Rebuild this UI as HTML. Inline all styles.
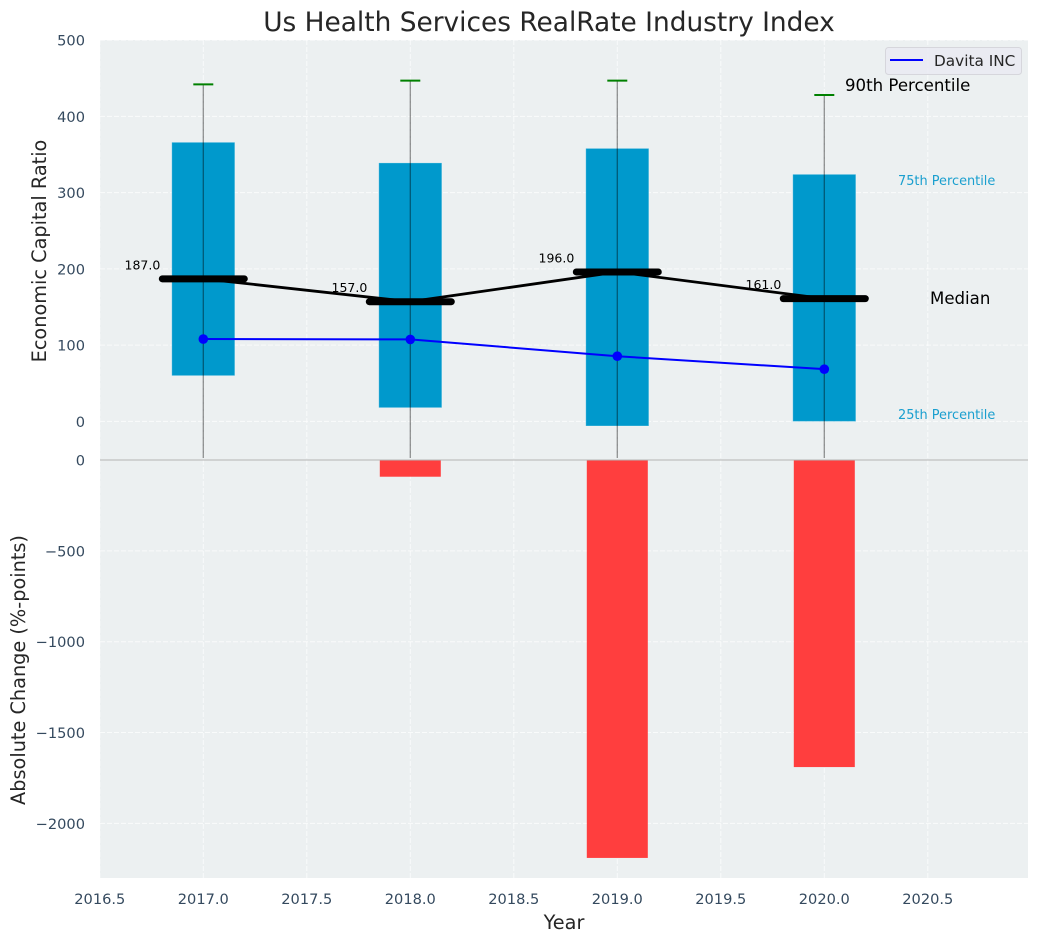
<!DOCTYPE html>
<html>
<head>
<meta charset="utf-8">
<title>Us Health Services RealRate Industry Index</title>
<style>
html,body{margin:0;padding:0;background:#fff;}
svg{display:block;font-family:"DejaVu Sans","Liberation Sans",sans-serif;}
</style>
</head>
<body>
<svg id="chart" width="1039" height="942" viewBox="0 0 1039 942" xmlns="http://www.w3.org/2000/svg">
  <rect x="0" y="0" width="1039" height="942" fill="#ffffff"/>
  <rect x="100" y="40" width="928" height="838" fill="#ecf0f1"/>
  <g id="grid"></g>
  <g id="ticks"></g>
  <g id="marks"></g>
  <text x="549" y="31" font-size="26.4" fill="#262626" text-anchor="middle">Us Health Services RealRate Industry Index</text>
  <text transform="translate(46,251) rotate(-90)" font-size="19.3" fill="#262626" text-anchor="middle">Economic Capital Ratio</text>
  <text transform="translate(25,670) rotate(-90)" font-size="19.3" fill="#262626" text-anchor="middle">Absolute Change (%-points)</text>
  <text x="564" y="929" font-size="19.3" fill="#262626" text-anchor="middle">Year</text>
  <g>
    <rect x="885.5" y="47.5" width="136" height="27" rx="3" fill="#eaeaf2" fill-opacity="0.8" stroke="#d6d6dc" stroke-width="1"/>
    <line x1="890" y1="60" x2="923" y2="60" stroke="#0000ff" stroke-width="2"/>
    <text x="934" y="66" font-size="15.3" fill="#262626">Davita INC</text>
  </g>
  <text x="845" y="91" font-size="16.6" fill="#000000">90th Percentile</text>
  <text x="930" y="304" font-size="16.6" fill="#000000">Median</text>
  <text x="898" y="185" font-size="12.9" fill="#1a9fcf">75th Percentile</text>
  <text x="898" y="419" font-size="12.9" fill="#1a9fcf">25th Percentile</text>
</svg>
<script>
const years = [2017, 2018, 2019, 2020];
const p25 = [60, 18, -6, 0];
const p75 = [366, 339, 358, 324];
const p90 = [442, 447, 447, 428];
const medians = [187, 157, 196, 161];
const medianLabels = ["187.0", "157.0", "196.0", "161.0"];
const davita = [108, 107.5, 85.5, 68.5];
const absChange = [0, -92, -2190, -1690];
const xTicks = [2016.5, 2017, 2017.5, 2018, 2018.5, 2019, 2019.5, 2020, 2020.5];
const xTickLabels = ["2016.5", "2017.0", "2017.5", "2018.0", "2018.5", "2019.0", "2019.5", "2020.0", "2020.5"];
const upperTicks = [0, 100, 200, 300, 400, 500];
const lowerTicks = [0, -500, -1000, -1500, -2000];
const lowerTickLabels = ["0", "\u2212500", "\u22121000", "\u22121500", "\u22122000"];
const whiskerFloor = -48;

const NS = "http://www.w3.org/2000/svg";
const xPos = v => 203.3 + (v - 2017) * 207;
const yUp = v => 421.4 - v * 0.7625;
const yLow = v => 460 + (0 - v) * 0.1817;
const PLOT_L = 100, PLOT_R = 1028, PLOT_T = 40, PLOT_B = 878, BOX_W = 63, BAR_W = 61, CAP = 10, MED = 41;

function make(tag, attrs, parent, text) {
  const el = document.createElementNS(NS, tag);
  for (const k in attrs) el.setAttribute(k, attrs[k]);
  if (text !== undefined) el.textContent = text;
  parent.appendChild(el);
  return el;
}
const grid = document.getElementById("grid");
const ticks = document.getElementById("ticks");
const marks = document.getElementById("marks");
const gridStyle = {stroke: "#ffffff", "stroke-opacity": 0.7, "stroke-width": 1, "stroke-dasharray": "5 2"};

xTicks.forEach((t, i) => {
  const g = make("line", Object.assign({x1: xPos(t), x2: xPos(t), y1: PLOT_T, y2: PLOT_B}, gridStyle), grid);
  
  
  const l = make("text", {x: xPos(t), y: 904, "font-size": 14.6, fill: "#34495e", "text-anchor": "middle"}, ticks, xTickLabels[i]);
  
  
});
upperTicks.forEach(t => {
  const g = make("line", Object.assign({x1: PLOT_L, x2: PLOT_R, y1: yUp(t), y2: yUp(t)}, gridStyle), grid);
  
  
  const l = make("text", {x: 85, y: yUp(t) + 5.4, "font-size": 14.6, fill: "#34495e", "text-anchor": "end"}, ticks, String(t));
  
  
});
lowerTicks.forEach((t, i) => {
  const g = make("line", Object.assign({x1: PLOT_L, x2: PLOT_R, y1: yLow(t), y2: yLow(t)}, gridStyle), grid);
  
  
  const l = make("text", {x: 85, y: yLow(t) + 5.4, "font-size": 14.6, fill: "#34495e", "text-anchor": "end"}, ticks, lowerTickLabels[i]);
  
  
});

years.forEach((yr, i) => {
  const x = xPos(yr);
  const box = make("rect", {x: x - BOX_W / 2, y: yUp(p75[i]), width: BOX_W, height: yUp(p25[i]) - yUp(p75[i]), fill: "#0099cc", stroke: "#ffffff", "stroke-opacity": 0.25, "stroke-width": 1}, marks);
  
  
  if (absChange[i] !== 0) {
    const bar = make("rect", {x: x - BAR_W / 2, y: yLow(0), width: BAR_W, height: yLow(absChange[i]) - yLow(0), fill: "#ff3e3e"}, marks);
    
    
  }
});

const zero = make("line", {x1: PLOT_L, x2: PLOT_R, y1: yLow(0), y2: yLow(0), stroke: "#b4b4b4", "stroke-width": 1}, marks);



years.forEach((yr, i) => {
  const x = xPos(yr);
  const w = make("line", {x1: x, x2: x, y1: yUp(p90[i]), y2: yUp(whiskerFloor), stroke: "#000000", "stroke-opacity": 0.42, "stroke-width": 1.3}, marks);
  
  
  const c = make("line", {x1: x - CAP, x2: x + CAP, y1: yUp(p90[i]), y2: yUp(p90[i]), stroke: "#008000", "stroke-width": 2}, marks);
  
  
});

const medLine = make("polyline", {points: years.map((y, i) => xPos(y) + "," + yUp(medians[i])).join(" "), fill: "none", stroke: "#000000", "stroke-width": 2.8}, marks);



const blue = make("polyline", {points: years.map((y, i) => xPos(y) + "," + yUp(davita[i])).join(" "), fill: "none", stroke: "#0000ff", "stroke-width": 2}, marks);



years.forEach((yr, i) => {
  const x = xPos(yr);
  const m = make("line", {x1: x - MED, x2: x + MED, y1: yUp(medians[i]), y2: yUp(medians[i]), stroke: "#000000", "stroke-width": 7, "stroke-linecap": "round"}, marks);
  
  
  const p = make("circle", {cx: x, cy: yUp(davita[i]), r: 4.8, fill: "#0000ff"}, marks);
  
  
  const t = make("text", {x: x - 43, y: yUp(medians[i]) - 9.5, "font-size": 12.5, fill: "#000000", "text-anchor": "end"}, marks, medianLabels[i]);
  
  
});
</script>
</body>
</html>
